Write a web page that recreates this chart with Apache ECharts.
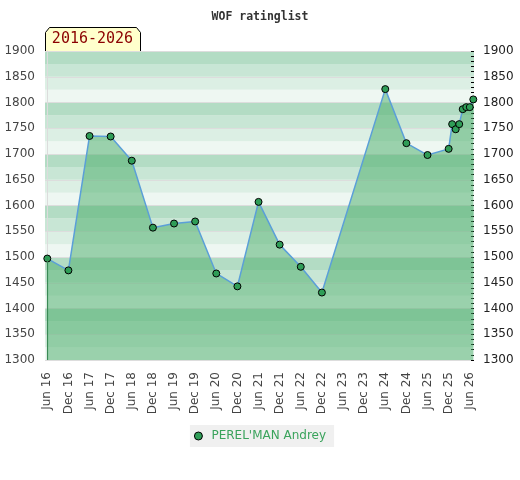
<!DOCTYPE html>
<html>
<head>
<meta charset="utf-8">
<script src="https://cdn.jsdelivr.net/npm/echarts@6/dist/echarts.min.js"></script>
<style>
    html, body { margin: 0; padding: 0; background: #fff; }
    #main { width: 520px; height: 480px; }
</style>
</head>
<body>
<div id="main"></div>
<script>
// rating list dates (year-month) and ratings
var dates = ['2016-06', '2016-12', '2017-06', '2017-12', '2018-06', '2018-12',
    '2019-06', '2019-12', '2020-06', '2020-12', '2021-06', '2021-12',
    '2022-06', '2022-12', '2024-06', '2024-12', '2025-06', '2025-12',
    '2026-01', '2026-02', '2026-03', '2026-04', '2026-05', '2026-06', '2026-07'];
var ratings = [1497, 1474, 1735, 1734, 1687, 1557,
    1565, 1569, 1468, 1443, 1607, 1524,
    1481, 1431, 1826, 1721, 1698, 1710,
    1758, 1748, 1758, 1787, 1791, 1791, 1806];
var playerName = "PEREL'MAN Andrey";
var periodText = '2016-2026';
var monthNames = ['Jun', 'Dec'];
var yMin = 1300, yMax = 1900;

// months counted from Jun 2016
function monthIndex(s) {
    var p = s.split('-');
    return (parseInt(p[0], 10) - 2016) * 12 + (parseInt(p[1], 10) - 6);
}

var tickMonths = [];
for (var i = 0; i <= 120; i += 6) { tickMonths.push(i); }

var seriesData = [];
for (var k = 0; k < dates.length; k++) {
    seriesData.push([monthIndex(dates[k]), ratings[k]]);
}

var dom = document.getElementById('main');
var myChart = echarts.init(dom);

var option = {
    animation: false,
    title: {
        text: 'WOF ratinglist',
        left: 'center',
        top: 6,
        textStyle: {
            fontFamily: 'DejaVu Sans Mono',
            fontSize: 11.5,
            fontWeight: 'bold',
            color: '#333'
        }
    },
    legend: {
        bottom: 33,
        left: 'center',
        backgroundColor: '#f0f0f0',
        padding: [5, 8, 5, 4],
        icon: 'circle',
        itemWidth: 16,
        itemHeight: 8,
        itemStyle: { color: '#2f9d57', borderColor: '#000', borderWidth: 1 },
        textStyle: { color: '#3aa35c', fontSize: 12, fontFamily: 'DejaVu Sans' },
        data: [playerName]
    },
    grid: {
        left: 45,
        right: 46,
        top: 51,
        bottom: 120,
        containLabel: false
    },
    xAxis: {
        type: 'value',
        min: -0.65,
        max: 121.2,
        axisLine: { show: false },
        axisTick: { show: false },
        splitLine: { show: false },
        axisLabel: {
            customValues: tickMonths,
            rotate: 90,
            margin: 12,
            fontSize: 12,
            fontFamily: 'DejaVu Sans',
            color: '#444',
            formatter: function (v) {
                var m = Math.round(v);
                var yr = 16 + Math.floor(m / 12);
                return monthNames[(m % 12 === 0) ? 0 : 1] + ' ' + yr;
            }
        }
    },
    yAxis: [
        {
            type: 'value',
            position: 'left',
            min: yMin,
            max: yMax,
            interval: 25,
            axisLine: { show: true, lineStyle: { color: '#dcdcdc', width: 1 } },
            axisTick: { show: false },
            splitLine: { show: false },
            splitArea: {
                show: true,
                areaStyle: { color: ['#eef7f2', '#dcefe4', '#c8e6d5', '#b3dcc4'] }
            },
            axisLabel: {
                margin: 10,
                fontSize: 12,
                fontFamily: 'DejaVu Sans',
                color: '#444',
                formatter: function (v) { return v % 50 === 0 ? String(v) : ''; }
            }
        },
        {
            type: 'value',
            position: 'right',
            min: yMin,
            max: yMax,
            interval: 50,
            axisLine: { show: false },
            axisTick: { show: true, inside: true, length: 3, lineStyle: { color: '#000' } },
            minorTick: { show: true, splitNumber: 5, length: 3, lineStyle: { color: '#000' } },
            splitLine: { show: true, lineStyle: { color: '#dddddd', width: 1 } },
            axisLabel: {
                margin: 9,
                fontSize: 12,
                fontFamily: 'DejaVu Sans',
                color: '#222',
                formatter: function (v) { return String(v); }
            }
        }
    ],
    series: [
        {
            name: playerName,
            type: 'line',
            yAxisIndex: 0,
            data: seriesData,
            symbol: 'circle',
            symbolSize: 7,
            lineStyle: { color: '#5b9fd8', width: 1.5 },
            itemStyle: { color: '#2f9d57', borderColor: '#000', borderWidth: 1 },
            areaStyle: { color: 'rgb(76,174,108)', opacity: 0.52, origin: 'start' },
            markLine: {
                silent: true,
                symbol: 'none',
                label: { show: false },
                lineStyle: { color: '#3a8a55', width: 1.2, type: 'solid' },
                data: [[
                    { coord: [seriesData[0][0], ratings[0]] },
                    { coord: [seriesData[0][0], yMin] }
                ]]
            }
        }
    ],
    graphic: [
        {
            type: 'group',
            left: 45,
            top: 27,
            children: [
                {
                    type: 'polygon',
                    shape: { points: [[0, 24], [0, 5], [4, 0], [91, 0], [95, 5], [95, 24]] },
                    style: { fill: '#ffffcc', stroke: '#000', lineWidth: 1 }
                },
                {
                    type: 'text',
                    x: 47,
                    y: 12,
                    style: {
                        text: periodText,
                        fill: '#8b0000',
                        font: '15px "DejaVu Sans Mono"',
                        textAlign: 'center',
                        textVerticalAlign: 'middle'
                    }
                }
            ]
        }
    ]
};

myChart.setOption(option, true);
</script>
</body>
</html>
